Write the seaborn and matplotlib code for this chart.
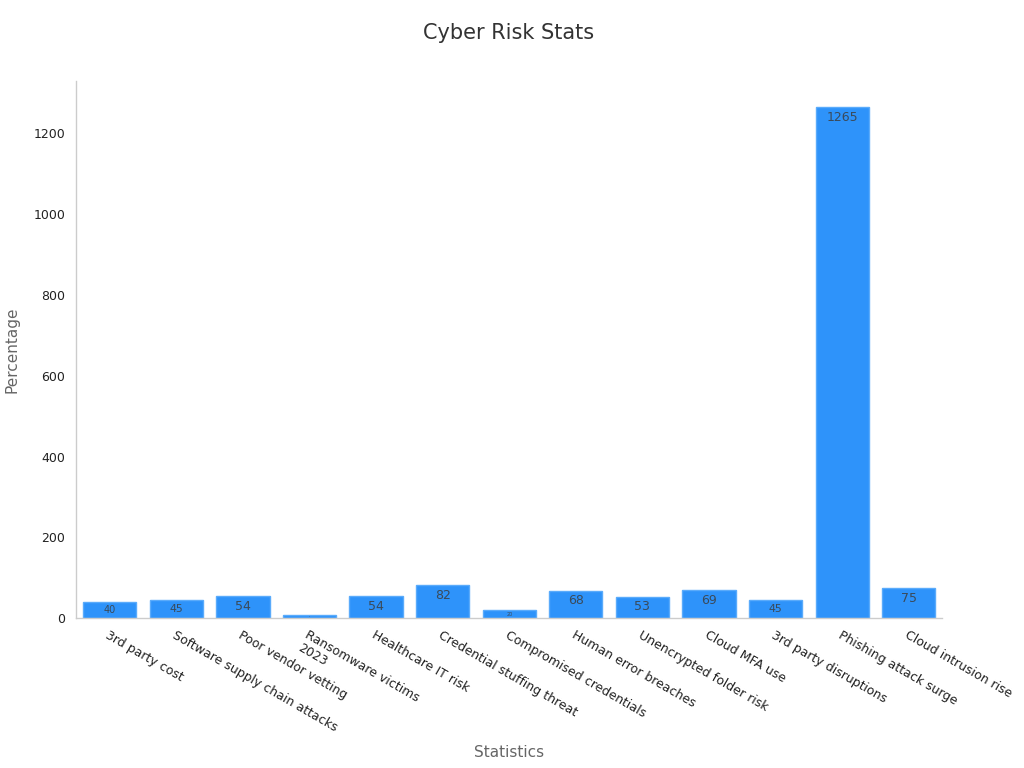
import numpy as np
import pandas as pd
import seaborn as sns
import matplotlib.pyplot as plt

# Chart data
categories = ['3rd party cost', 'Software supply chain attacks', 'Poor vendor vetting',
              'Ransomware victims\n2023', 'Healthcare IT risk', 'Credential stuffing threat',
              'Compromised credentials', 'Human error breaches', 'Unencrypted folder risk',
              'Cloud MFA use', '3rd party disruptions', 'Phishing attack surge',
              'Cloud intrusion rise']
values = [40, 45, 54, 7, 54, 82, 20, 68, 53, 69, 45, 1265, 75]

df = pd.DataFrame({'Statistics': categories, 'Percentage': values})

sns.set_style('white')
plt.rcParams['font.family'] = ['DejaVu Sans']

fig, ax = plt.subplots(figsize=(10.24, 7.68), dpi=100)
fig.subplots_adjust(left=0.074, right=0.92, top=0.895, bottom=0.195)

sns.barplot(data=df, x='Statistics', y='Percentage', color='#2E93FA',
            saturation=1, width=0.8, edgecolor='#5aabfb', linewidth=1, ax=ax)

ax.set_xlim(-0.51, 12.5)
ax.set_ylim(0, 1330)
ax.set_yticks([0, 200, 400, 600, 800, 1000, 1200])

# Value labels inside the bars, shrinking for short bars
px_per_unit = 485 / 1200
for i, v in enumerate(values):
    h = v * px_per_unit
    fs = min(9, h / 2.3)
    y = max(v / 2, v - 25)
    ax.text(i, y, str(v), ha='center', va='center', fontsize=fs, color='#3a4a5a')

ax.set_title('Cyber Risk Stats', fontsize=15, color='#333333', pad=30)
ax.set_xlabel('Statistics', fontsize=11, color='#666666', labelpad=8)
ax.set_ylabel('Percentage', fontsize=11, color='#666666', labelpad=10)

for lab in ax.get_xticklabels():
    lab.set_rotation(-30)
    lab.set_ha('left')
    lab.set_rotation_mode('anchor')
ax.tick_params(axis='x', labelsize=9, colors='#222222', length=4, color='#888888')
ax.tick_params(axis='y', labelsize=9, colors='#222222', length=4, color='#888888')

sns.despine(ax=ax)
for side in ['left', 'bottom']:
    ax.spines[side].set_color('#cccccc')
    ax.spines[side].set_linewidth(1)

plt.savefig('out.png', dpi=100)
